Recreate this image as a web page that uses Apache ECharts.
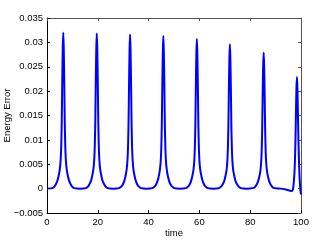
<!DOCTYPE html>
<html>
<head>
<meta charset="utf-8">
<script src="https://cdn.jsdelivr.net/npm/echarts@6/dist/echarts.min.js"></script>
<style>html,body{margin:0;padding:0;background:#fff;}#c{width:332px;height:241px;}</style>
</head>
<body>
<div id="c"></div>
<script>
var xTicks = [0, 20, 40, 60, 80, 100];
var yTicks = [-0.005, 0, 0.005, 0.01, 0.015, 0.02, 0.025, 0.03, 0.035];

var time = [
  0,
  2.1, 2.9, 3.6, 4.2, 4.7, 5.1, 5.4, 5.6, 5.8, 6.0, 6.2, 6.4, 6.6, 6.8, 7.0, 7.2, 7.4, 7.7, 8.1, 8.6, 9.2, 9.9, 10.7,
  13.0,
  15.3, 16.1, 16.8, 17.4, 17.9, 18.3, 18.6, 18.8, 19.0, 19.2, 19.4, 19.6, 19.8, 20.0, 20.2, 20.4, 20.6, 20.9, 21.3, 21.8, 22.4, 23.1, 23.9,
  26.1,
  28.4, 29.2, 29.9, 30.5, 31.0, 31.4, 31.7, 31.9, 32.1, 32.3, 32.5, 32.7, 32.9, 33.1, 33.3, 33.5, 33.7, 34.0, 34.4, 34.9, 35.5, 36.2, 37.0,
  39.2,
  41.5, 42.3, 43.0, 43.6, 44.1, 44.5, 44.8, 45.0, 45.2, 45.4, 45.6, 45.8, 46.0, 46.2, 46.4, 46.6, 46.8, 47.1, 47.5, 48.0, 48.6, 49.3, 50.1,
  52.4,
  54.7, 55.5, 56.2, 56.8, 57.3, 57.7, 58.0, 58.2, 58.4, 58.6, 58.8, 59.0, 59.2, 59.4, 59.6, 59.8, 60.0, 60.3, 60.7, 61.2, 61.8, 62.5, 63.3,
  65.5,
  67.7, 68.5, 69.2, 69.8, 70.3, 70.7, 71.0, 71.2, 71.4, 71.6, 71.8, 72.0, 72.2, 72.4, 72.6, 72.8, 73.0, 73.3, 73.7, 74.2, 74.8, 75.5, 76.3,
  78.6,
  81.0, 81.8, 82.5, 83.1, 83.6, 84.0, 84.3, 84.5, 84.7, 84.9, 85.1, 85.3, 85.5, 85.7, 85.9, 86.1, 86.3, 86.6, 87.0, 87.5, 88.1, 88.8, 89.6,
  92.0, 94.0, 95.5, 96.3, 96.8, 97.1, 97.4, 97.6, 97.8, 98.0, 98.2, 98.4, 98.6, 98.8, 99.0, 99.2, 99.4, 99.6, 99.8, 100
];

var energyError = [
  0,
  0.0001, 0.0004, 0.001, 0.0018, 0.0029, 0.0042, 0.0061, 0.0086, 0.0134, 0.0218, 0.0288, 0.032, 0.0288, 0.0218, 0.0134, 0.0086, 0.0061, 0.0042, 0.0029, 0.0018, 0.001, 0.0004, 0.0001,
  0,
  0.0001, 0.0004, 0.001, 0.0017, 0.0029, 0.0041, 0.006, 0.0086, 0.0134, 0.0216, 0.0286, 0.0318, 0.0286, 0.0216, 0.0134, 0.0086, 0.006, 0.0041, 0.0029, 0.0017, 0.001, 0.0004, 0.0001,
  0,
  0.0001, 0.0004, 0.0009, 0.0017, 0.0028, 0.0041, 0.006, 0.0085, 0.0133, 0.0215, 0.0284, 0.0316, 0.0284, 0.0215, 0.0133, 0.0085, 0.006, 0.0041, 0.0028, 0.0017, 0.0009, 0.0004, 0.0001,
  0,
  0.0001, 0.0004, 0.0009, 0.0017, 0.0028, 0.0041, 0.0059, 0.0085, 0.0131, 0.0213, 0.0282, 0.0313, 0.0282, 0.0213, 0.0131, 0.0085, 0.0059, 0.0041, 0.0028, 0.0017, 0.0009, 0.0004, 0.0001,
  0,
  0.0001, 0.0004, 0.0009, 0.0017, 0.0028, 0.004, 0.0058, 0.0083, 0.0129, 0.0209, 0.0276, 0.0307, 0.0276, 0.0209, 0.0129, 0.0083, 0.0058, 0.004, 0.0028, 0.0017, 0.0009, 0.0004, 0.0001,
  0,
  0.0001, 0.0004, 0.0009, 0.0016, 0.0027, 0.0038, 0.0056, 0.008, 0.0124, 0.0201, 0.0266, 0.0296, 0.0266, 0.0201, 0.0124, 0.008, 0.0056, 0.0038, 0.0027, 0.0016, 0.0009, 0.0004, 0.0001,
  0,
  0.0001, 0.0003, 0.0008, 0.0015, 0.0025, 0.0036, 0.0053, 0.0075, 0.0117, 0.019, 0.0251, 0.0279, 0.0251, 0.019, 0.0117, 0.0075, 0.0053, 0.0036, 0.0025, 0.0015, 0.0008, 0.0003, 0.0001,
  0, -0.0002, -0.0004, -0.0005, -0.0002, 0.001, 0.003, 0.0055, 0.0095, 0.015, 0.0205, 0.0229, 0.0205, 0.015, 0.0098, 0.0058, 0.0028, 0.0008, -0.0004, -0.0012
];

var points = time.map(function (t, i) { return [t, energyError[i]]; });

function fmtY(v) {
  var s = String(Math.round(v * 1000) / 1000);
  return s.replace('-', '\u2212');
}

var FONT = 'Liberation Sans';
var chart = echarts.init(document.getElementById('c'), null, {renderer: 'canvas'});
chart.setOption({
  animation: false,
  backgroundColor: '#fff',
  grid: {left: 47, right: 31, top: 18, bottom: 28, containLabel: false, outerBoundsMode: 'none'},
  xAxis: [{
    type: 'value', min: xTicks[0], max: xTicks[xTicks.length - 1], interval: 20,
    name: 'time', nameLocation: 'middle', nameGap: 15, nameMoveOverlap: false,
    nameTextStyle: {fontFamily: FONT, fontSize: 9.5, color: '#000'},
    axisLine: {show: true, onZero: false, lineStyle: {color: '#000', width: 1}},
    axisTick: {show: true, inside: true, length: 3, lineStyle: {color: '#000'}},
    axisLabel: {fontFamily: FONT, fontSize: 9.5, color: '#000', margin: 4},
    splitLine: {show: false}
  }, {
    type: 'value', position: 'top', min: 0, max: 100, interval: 20,
    axisLine: {show: true, onZero: false, lineStyle: {color: '#555', width: 1}},
    axisTick: {show: true, inside: true, length: 3, lineStyle: {color: '#555'}},
    axisLabel: {show: false}, splitLine: {show: false}
  }],
  yAxis: [{
    type: 'value', min: yTicks[0], max: yTicks[yTicks.length - 1], interval: 0.005,
    name: 'Energy Error', nameLocation: 'middle', nameGap: 35, nameRotate: 90, nameMoveOverlap: false,
    nameTextStyle: {fontFamily: FONT, fontSize: 9.5, color: '#000'},
    axisLine: {show: true, onZero: false, lineStyle: {color: '#000', width: 1}},
    axisTick: {show: true, inside: true, length: 3, lineStyle: {color: '#000'}},
    axisLabel: {fontFamily: FONT, fontSize: 9.5, color: '#000', margin: 4, formatter: fmtY},
    splitLine: {show: false}
  }, {
    type: 'value', position: 'right', min: -0.005, max: 0.035, interval: 0.005,
    axisLine: {show: true, onZero: false, lineStyle: {color: '#555', width: 1}},
    axisTick: {show: true, inside: true, length: 3, lineStyle: {color: '#555'}},
    axisLabel: {show: false}, splitLine: {show: false}
  }],
  series: [{
    type: 'line', data: points, xAxisIndex: 0, yAxisIndex: 0,
    showSymbol: false, smooth: 0.2,
    lineStyle: {color: '#0000ff', width: 2},
    clip: true
  }]
});
</script>
</body>
</html>
